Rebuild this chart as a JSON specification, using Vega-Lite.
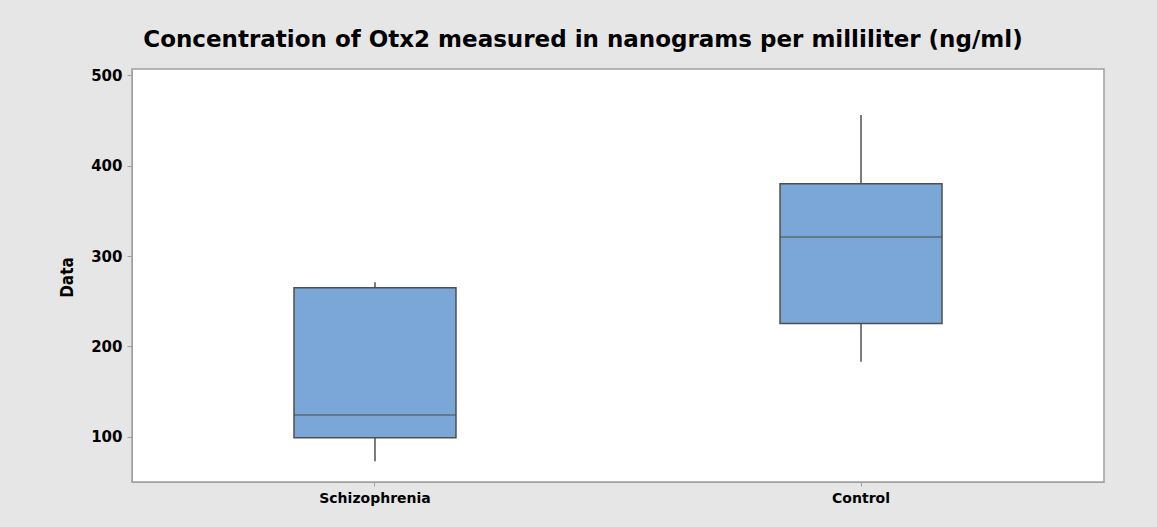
{
  "$schema": "https://vega.github.io/schema/vega-lite/v6.json",
  "width": 972,
  "height": 413,
  "autosize": {"type": "none"},
  "padding": {"left": 132, "top": 69, "right": 53, "bottom": 45},
  "background": "#e6e6e6",
  "title": {
    "text": "Concentration of Otx2 measured in nanograms per milliliter (ng/ml)",
    "font": "DejaVu Sans",
    "fontSize": 23,
    "fontWeight": "bold",
    "color": "#000000",
    "anchor": "middle",
    "dx": -35,
    "offset": 16
  },
  "data": {
    "values": [
      {"group": "Schizophrenia", "min": 73, "q1": 99, "median": 124, "q3": 265, "max": 271},
      {"group": "Control", "min": 183, "q1": 225.5, "median": 321, "q3": 380, "max": 456}
    ]
  },
  "encoding": {
    "x": {
      "field": "group",
      "type": "nominal",
      "sort": ["Schizophrenia", "Control"],
      "scale": {"paddingInner": 0.6667, "paddingOuter": 0.3333},
      "axis": {
        "title": null,
        "labelAngle": 0,
        "labelFont": "DejaVu Sans",
        "labelFontSize": 14,
        "labelFontWeight": "bold",
        "labelColor": "#000000",
        "tickSize": 4,
        "tickColor": "#a0a0a0",
        "domainColor": "#a0a0a0",
        "labelPadding": 5
      }
    }
  },
  "layer": [
    {
      "mark": {"type": "rule", "color": "#505050", "strokeWidth": 1.5},
      "encoding": {
        "y": {
          "field": "min",
          "type": "quantitative",
          "scale": {"domain": [50, 507], "nice": false, "zero": false},
          "axis": {
            "title": "Data",
            "values": [100, 200, 300, 400, 500],
            "grid": false,
            "labelFont": "DejaVu Sans",
            "labelFontSize": 15,
            "labelFontWeight": "bold",
            "labelColor": "#000000",
            "tickSize": 5,
            "tickColor": "#a0a0a0",
            "domainColor": "#a0a0a0",
            "labelPadding": 5,
            "titleFont": "DejaVu Sans Condensed",
            "titleFontSize": 17,
            "titleFontWeight": "bold",
            "titleColor": "#000000",
            "titleAngle": -90,
            "titleX": -65,
            "titleY": 208,
            "titleBaseline": "middle",
            "titleAlign": "center"
          }
        },
        "y2": {"field": "max"}
      }
    },
    {
      "mark": {"type": "bar", "fill": "#7ba7d8", "stroke": "#505050", "strokeWidth": 1.5},
      "encoding": {
        "y": {"field": "q1", "type": "quantitative"},
        "y2": {"field": "q3"}
      }
    },
    {
      "mark": {"type": "tick", "color": "#505050", "thickness": 1.5, "size": 162},
      "encoding": {
        "y": {"field": "median", "type": "quantitative"}
      }
    }
  ],
  "config": {
    "view": {"fill": "#ffffff", "stroke": "#a0a0a0", "strokeWidth": 1.5}
  }
}
